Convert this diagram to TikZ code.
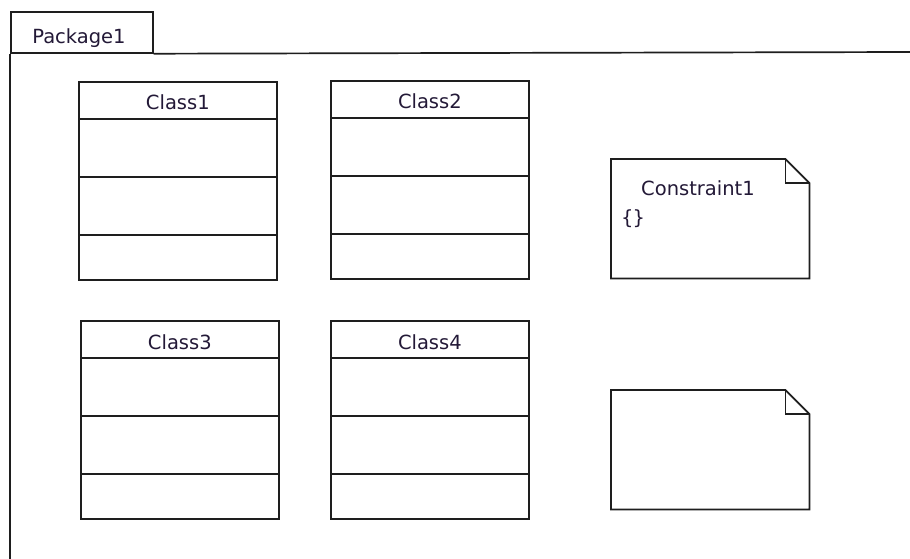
\documentclass[tikz,border=0pt]{standalone}
\usepackage{fontspec}
\setmainfont{DejaVu Sans}
\definecolor{ln}{RGB}{30,30,30}
\definecolor{tx}{RGB}{35,25,55}
\begin{document}
\begin{tikzpicture}[x=1pt,y=-1pt,
  lbl/.style={inner sep=0pt,text=tx,font=\fontsize{19.5}{23}\selectfont},
  classbox/.style={draw=ln,line width=1.7pt,fill=white,minimum width=198pt,minimum height=198pt,anchor=north west,inner sep=0pt},
  notebox/.style={minimum width=198pt,minimum height=119pt,anchor=north west,inner sep=0pt},
  ol/.style={draw=ln,line width=1.7pt}]
\useasboundingbox (0,0) rectangle (910,559);
\fill[white] (0,0) rectangle (910,559);
% package
\node[ol,minimum width=142pt,minimum height=41pt,anchor=north west,inner sep=0pt] (pkgtab) at (10,11) {};
\node[lbl,anchor=base] (pkgname) at (79,44) {Package1};
\coordinate (pkgright) at (912,52);
\coordinate (pkgbottom) at (10,561);
\draw[ol] (pkgtab.south east) -- (pkgright);
\draw[ol] (pkgtab.south west) -- (pkgbottom);
% classes
\foreach \n/\x/\y in {1/78/81, 2/330/80, 3/80/320, 4/330/320}{
  \node[classbox] (c\n) at (\x,\y) {};
  \draw[ol] ([yshift=-38pt]c\n.north west) -- ([yshift=-38pt]c\n.north east);
  \draw[ol] ([yshift=-96pt]c\n.north west) -- ([yshift=-96pt]c\n.north east);
  \draw[ol] ([yshift=-154pt]c\n.north west) -- ([yshift=-154pt]c\n.north east);
  \node[lbl,anchor=base] (c\n t) at ([yshift=-29pt]c\n.north) {Class\n};
}
% notes
\foreach \n/\y in {1/159, 2/390}{
  \node[notebox] (n\n) at (611,\y) {};
  \draw[ol,line join=miter] (n\n.north west) -- ([xshift=-24pt]n\n.north east) -- ([yshift=-24pt]n\n.north east) -- (n\n.south east) -- (n\n.south west) -- cycle;
  \draw[ol] ([xshift=-24pt]n\n.north east) |- ([yshift=-24pt]n\n.north east);
}
\node[lbl,anchor=base west] (n1name) at (641,195) {Constraint1};
\node[lbl,anchor=base west] (n1body) at (621,224) {\{\kern-1pt\}};
\end{tikzpicture}
\end{document}
